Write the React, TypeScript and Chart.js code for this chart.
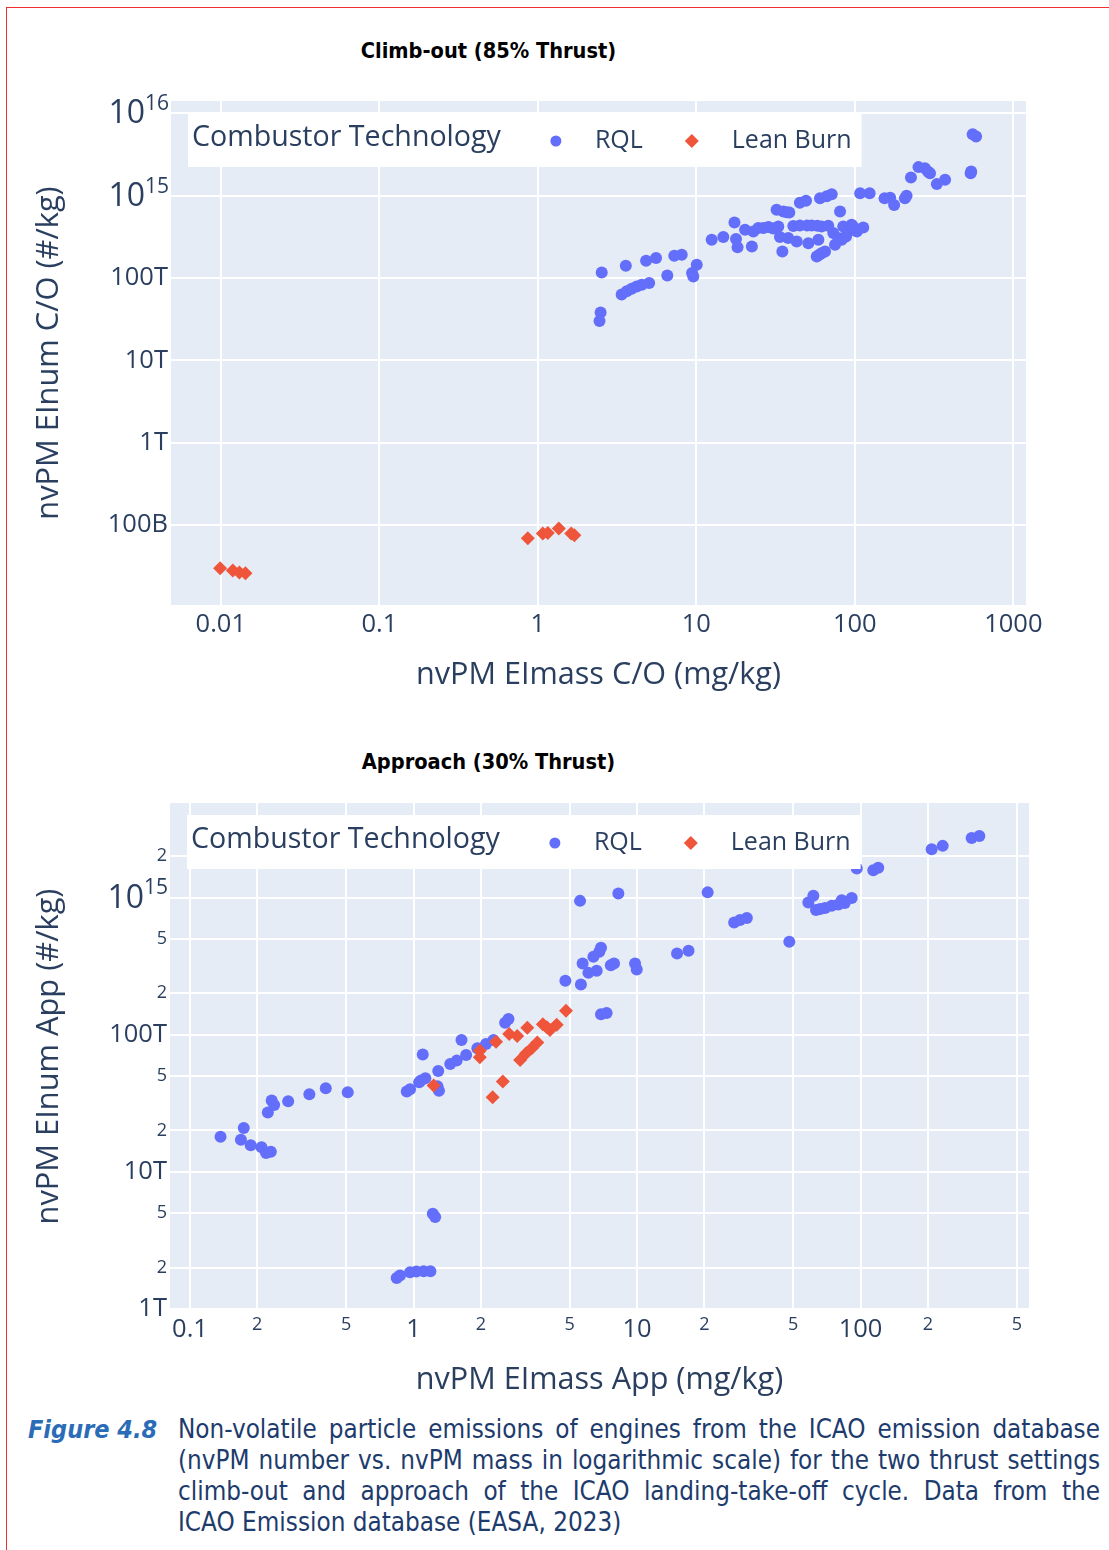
import React, { useEffect, useRef } from 'react';
import { Chart, registerables } from 'chart.js';

Chart.register(...registerables);

// ---------------- data ----------------
// Climb-out (85% thrust): RQL
const climbRqlMass = [2.53, 2.49, 2.45, 3.59, 3.38, 3.64, 3.91, 4.21, 4.53, 5.04, 4.82, 5.57, 6.56, 7.26, 8.09, 10.06, 9.57, 9.4, 12.5, 14.8, 17.4, 17.8, 18.2, 20.3, 22.4, 22.9, 24.6, 26.5, 28.5, 30.5, 32.1, 35.4, 38.6, 32.9, 33.7, 38.0, 34.9, 43.0, 40.9, 45.0, 49.2, 60.3, 66.5, 71.5, 108, 124, 154, 167, 177, 207, 212, 226, 252, 277, 290, 298, 329, 371, 538, 542, 554, 582, 80.7, 37.2, 45, 50, 53.4, 58, 61.7, 73.1, 84.5, 95.5, 113, 103, 91, 78.7, 75, 82.6, 50.9, 58.9, 59.7, 57.5, 64.9, 61.7, 97.5, 68, 88];
const climbRqlNum = [1.17e14, 3.8e13, 3.0e13, 1.41e14, 6.3e13, 6.9e13, 7.4e13, 7.9e13, 8.3e13, 8.7e13, 1.62e14, 1.75e14, 1.07e14, 1.86e14, 1.92e14, 1.45e14, 1.04e14, 1.15e14, 2.91e14, 3.14e14, 4.72e14, 2.97e14, 2.37e14, 3.85e14, 2.41e14, 3.67e14, 4.04e14, 4.04e14, 4.15e14, 4.0e14, 6.73e14, 6.41e14, 6.23e14, 4.22e14, 3.14e14, 3.06e14, 2.10e14, 2.77e14, 4.28e14, 8.2e14, 8.65e14, 9.3e14, 9.8e14, 1.04e15, 1.07e15, 1.07e15, 9.3e14, 9.4e14, 7.7e14, 9.3e14, 1.0e15, 1.66e15, 2.22e15, 2.15e15, 1.95e15, 1.87e15, 1.38e15, 1.56e15, 1.87e15, 1.96e15, 5.57e15, 5.21e15, 6.4e14, 6.3e14, 4.34e14, 4.34e14, 4.34e14, 4.3e14, 4.22e14, 3.51e14, 4.22e14, 4.43e14, 4.10e14, 3.67e14, 3.67e14, 3.06e14, 2.53e14, 2.91e14, 2.65e14, 2.91e14, 1.92e14, 1.83e14, 2.10e14, 2.0e14, 4.2e14, 4.3e14, 3.2e14];
// Climb-out: Lean Burn
const climbLbMass = [0.0099, 0.0119, 0.0131, 0.0143, 0.865, 1.075, 1.156, 1.357, 1.625, 1.7];
const climbLbNum = [3.0e10, 2.8e10, 2.65e10, 2.6e10, 6.9e10, 7.9e10, 8.0e10, 9.1e10, 7.9e10, 7.5e10];

// Approach (30% thrust): RQL
const appRqlMass = [0.137, 0.174, 0.169, 0.187, 0.209, 0.219, 0.23, 0.223, 0.232, 0.238, 0.275, 0.342, 0.405, 0.508, 0.933, 0.965, 1.06, 1.13, 1.1, 1.29, 1.28, 1.3, 1.46, 1.56, 1.72, 1.64, 1.22, 1.25, 0.841, 0.87, 0.965, 1.03, 1.11, 1.19, 1.08, 1.93, 2.11, 2.28, 2.57, 2.66, 4.78, 5.61, 5.56, 8.25, 5.71, 6.06, 6.6, 6.38, 6.78, 6.9, 7.63, 7.89, 6.9, 7.31, 9.8, 9.97, 20.7, 27.2, 28.9, 31.0, 48.0, 15.1, 17.0, 58.4, 61.5, 63.2, 66, 69.4, 74.3, 79.6, 82.4, 85, 91.3, 96.2, 114, 120, 208, 233, 314, 340];
const appRqlNum = [1.8e13, 2.08e13, 1.71e13, 1.56e13, 1.51e13, 1.37e13, 1.4e13, 2.7e13, 3.3e13, 3.06e13, 3.27e13, 3.67e13, 4.06e13, 3.8e13, 3.84e13, 4.0e13, 4.5e13, 4.81e13, 7.15e13, 5.43e13, 4.2e13, 3.9e13, 6.11e13, 6.46e13, 7.1e13, 9.15e13, 4.93e12, 4.67e12, 1.68e12, 1.75e12, 1.85e12, 1.87e12, 1.88e12, 1.88e12, 4.62e13, 7.94e13, 8.55e13, 9.15e13, 1.22e14, 1.3e14, 2.47e14, 2.32e14, 9.45e14, 1.07e15, 3.3e14, 2.82e14, 2.92e14, 3.69e14, 4.02e14, 4.3e14, 3.21e14, 3.3e14, 1.41e14, 1.44e14, 3.3e14, 2.99e14, 1.09e15, 6.58e14, 6.84e14, 7.1e14, 4.75e14, 3.91e14, 4.09e14, 9.2e14, 1.03e15, 8.09e14, 8.25e14, 8.4e14, 8.69e14, 8.89e14, 9.55e14, 9.1e14, 9.93e14, 1.63e15, 1.58e15, 1.65e15, 2.25e15, 2.38e15, 2.72e15, 2.81e15];
// Approach: Lean Burn
const appLbMass = [1.23, 1.98, 1.98, 2.34, 2.26, 2.51, 2.68, 2.91, 3.23, 3.0, 3.19, 3.38, 3.58, 3.79, 4.08, 4.37, 4.81, 3.95];
const appLbNum = [4.25e13, 7.64e13, 6.84e13, 8.88e13, 3.49e13, 4.54e13, 1.01e14, 9.77e13, 1.12e14, 6.53e13, 7.31e13, 7.94e13, 8.74e13, 1.19e14, 1.08e14, 1.18e14, 1.49e14, 1.13e14];

// ticks
const climbXTicks = [0.01, 0.1, 1, 10, 100, 1000];
const climbYTicks = [1e11, 1e12, 1e13, 1e14, 1e15, 1e16];
const appXTicks = [0.1, 0.2, 0.5, 1, 2, 5, 10, 20, 50, 100, 200, 500];
const appYTicks = [1e12, 2e12, 5e12, 1e13, 2e13, 5e13, 1e14, 2e14, 5e14, 1e15, 2e15];

const seriesNames = ['RQL', 'Lean Burn'];
const legendTitle = 'Combustor Technology';

const captionLines = [
  'Non-volatile particle emissions of engines from the ICAO emission database',
  '(nvPM number vs. nvPM mass in logarithmic scale) for the two thrust settings',
  'climb-out and approach of the ICAO landing-take-off cycle. Data from the',
  'ICAO Emission database (EASA, 2023)',
];

// ---------------- styles ----------------
const RQL_COLOR = '#636EFA';
const LB_COLOR = '#EF553B';
const TEXT_COLOR = '#2a3f5f';
const PLOT_BG = '#E5ECF6';
const FONT = '"Open Sans", Verdana, Arial, sans-serif';
const NARROW = '"Liberation Sans Narrow", "DejaVu Sans Condensed", sans-serif';

const isMajor = (v: number) => Math.abs(Math.log10(v) - Math.round(Math.log10(v))) < 1e-6;
const mantissa = (v: number) => Math.round(v / Math.pow(10, Math.floor(Math.log10(v) + 1e-9)));

function numLabel(v: number) {
  const e = Math.round(Math.log10(v));
  if (e >= 15) return '';
  if (e >= 12) return Math.pow(10, e - 12) + 'T';
  if (e >= 9) return Math.pow(10, e - 9) + 'B';
  return String(v);
}
function xLabel(v: number) {
  if (!isMajor(v)) return String(mantissa(v));
  const e = Math.round(Math.log10(v));
  return e < 0 ? v.toFixed(-e) : String(Math.round(v));
}
function yLabel(v: number) {
  if (!isMajor(v)) return String(mantissa(v));
  return numLabel(v);
}

const bgPlugin = {
  id: 'plotBg',
  beforeDraw(chart: any) {
    const { ctx, chartArea: a } = chart;
    ctx.save();
    ctx.fillStyle = PLOT_BG;
    ctx.fillRect(a.left, a.top, a.right - a.left, a.bottom - a.top);
    ctx.restore();
  },
};

const legendPlugin = {
  id: 'plotlyLegend',
  afterDatasetsDraw(chart: any) {
    const { ctx, chartArea: a } = chart;
    ctx.save();
    const x0 = a.left + 17;
    const y0 = a.top + 12;
    const h = 54;
    const cy = y0 + 27;
    const titleFont = `28.6px ${FONT}`;
    const itemFont = `25px ${FONT}`;
    ctx.font = titleFont;
    const tW = ctx.measureText(legendTitle).width;
    ctx.font = itemFont;
    const rW = ctx.measureText(seriesNames[0]).width;
    const lW = ctx.measureText(seriesNames[1]).width;
    const tX = x0 + 4;
    const m1 = tX + tW + 55;
    const r1 = m1 + 39;
    const m2 = r1 + rW + 49;
    const l1 = m2 + 40;
    const right = l1 + lW + 10;
    ctx.fillStyle = '#ffffff';
    ctx.fillRect(x0, y0, right - x0, h);
    ctx.fillStyle = TEXT_COLOR;
    ctx.textBaseline = 'middle';
    ctx.textAlign = 'left';
    ctx.font = titleFont;
    ctx.fillText(legendTitle, tX, cy - 2);
    ctx.font = itemFont;
    ctx.fillText(seriesNames[0], r1, cy + 1);
    ctx.fillText(seriesNames[1], l1, cy + 1);
    ctx.fillStyle = RQL_COLOR;
    ctx.beginPath();
    ctx.arc(m1, cy + 1, 5.5, 0, Math.PI * 2);
    ctx.fill();
    ctx.fillStyle = LB_COLOR;
    ctx.beginPath();
    const d = 7;
    ctx.moveTo(m2 - d, cy + 1);
    ctx.lineTo(m2, cy + 1 - d);
    ctx.lineTo(m2 + d, cy + 1);
    ctx.lineTo(m2, cy + 1 + d);
    ctx.closePath();
    ctx.fill();
    ctx.restore();
  },
};

function supPlugin(values: number[]) {
  return {
    id: 'supLabels',
    afterDraw(chart: any) {
      const { ctx } = chart;
      const s = chart.scales.y;
      ctx.save();
      ctx.fillStyle = TEXT_COLOR;
      ctx.textAlign = 'right';
      ctx.textBaseline = 'middle';
      values.forEach((v) => {
        const y = s.getPixelForValue(v);
        const exp = String(Math.round(Math.log10(v)));
        const right = s.right - 2;
        ctx.font = `21px ${FONT}`;
        const ew = ctx.measureText(exp).width;
        ctx.fillText(exp, right, y - 9);
        ctx.font = `32px ${FONT}`;
        ctx.fillText('10', right - ew, y + 1);
      });
      ctx.restore();
    },
  };
}

type PanelProps = {
  top: number;
  height: number;
  padTop: number;
  padRight: number;
  yAxisWidth: number;
  xAxisHeight: number;
  rqlX: number[];
  rqlY: number[];
  lbX: number[];
  lbY: number[];
  xMin: number;
  xMax: number;
  yMin: number;
  yMax: number;
  xTicks: number[];
  yTicks: number[];
  xTitle: string;
  yTitle: string;
  xTitlePad: number;
  supValues: number[];
};

function Panel(p: PanelProps) {
  const ref = useRef<HTMLCanvasElement>(null);
  useEffect(() => {
    const rql = p.rqlX.map((x, i) => ({ x, y: p.rqlY[i] }));
    const lb = p.lbX.map((x, i) => ({ x, y: p.lbY[i] }));
    const tickFont = (c: any) => ({ family: FONT, size: c.tick && isMajor(c.tick.value) ? 25.5 : 18 });
    const chart = new Chart(ref.current as HTMLCanvasElement, {
      type: 'scatter',
      data: {
        datasets: [
          {
            label: seriesNames[1],
            data: lb,
            order: 0,
            pointStyle: 'rectRot',
            pointRadius: 7,
            pointHoverRadius: 7,
            pointBorderWidth: 0,
            backgroundColor: LB_COLOR,
            borderColor: LB_COLOR,
          },
          {
            label: seriesNames[0],
            data: rql,
            order: 1,
            pointStyle: 'circle',
            pointRadius: 6,
            pointHoverRadius: 6,
            pointBorderWidth: 0,
            backgroundColor: RQL_COLOR,
            borderColor: RQL_COLOR,
          },
        ],
      },
      options: {
        animation: false,
        responsive: false,
        maintainAspectRatio: false,
        devicePixelRatio: 1,
        events: [],
        layout: { padding: { top: p.padTop, right: p.padRight, left: 0, bottom: 0 } },
        plugins: { legend: { display: false }, tooltip: { enabled: false }, title: { display: false } },
        scales: {
          x: {
            type: 'logarithmic',
            min: p.xMin,
            max: p.xMax,
            afterBuildTicks: (s: any) => {
              s.ticks = p.xTicks.map((v) => ({ value: v }));
            },
            afterFit: (s: any) => {
              s.height = p.xAxisHeight;
              s.paddingLeft = 0;
              s.paddingRight = 0;
            },
            grid: { color: '#ffffff', lineWidth: 2, drawTicks: false },
            border: { display: false },
            ticks: {
              autoSkip: false,
              maxRotation: 0,
              minRotation: 0,
              padding: 4,
              color: TEXT_COLOR,
              font: tickFont,
              callback: (v: any) => xLabel(Number(v)),
            },
            title: {
              display: true,
              text: p.xTitle,
              color: TEXT_COLOR,
              font: { family: FONT, size: 30.6 },
              padding: { top: 0, bottom: p.xTitlePad },
            },
          },
          y: {
            type: 'logarithmic',
            min: p.yMin,
            max: p.yMax,
            afterBuildTicks: (s: any) => {
              s.ticks = p.yTicks.map((v) => ({ value: v }));
            },
            afterFit: (s: any) => {
              s.width = p.yAxisWidth;
              s.paddingTop = 0;
              s.paddingBottom = 0;
            },
            grid: { color: '#ffffff', lineWidth: 2, drawTicks: false },
            border: { display: false },
            ticks: {
              autoSkip: false,
              padding: 3,
              color: TEXT_COLOR,
              font: tickFont,
              callback: (v: any) => yLabel(Number(v)),
            },
            title: {
              display: true,
              text: p.yTitle,
              color: TEXT_COLOR,
              font: { family: FONT, size: 30.8 },
              padding: { top: 31, bottom: 0 },
            },
          },
        },
      },
      plugins: [bgPlugin, legendPlugin, supPlugin(p.supValues)],
    } as any);
    return () => chart.destroy();
  }, []);
  return (
    <canvas
      ref={ref}
      width={1109}
      height={p.height}
      style={{ position: 'absolute', left: 0, top: p.top, width: 1109, height: p.height }}
    />
  );
}

const titleStyle: React.CSSProperties = {
  position: 'absolute',
  left: 0,
  width: 977,
  textAlign: 'center',
  fontFamily: NARROW,
  fontWeight: 'bold',
  fontSize: 21.6,
  color: '#000',
  lineHeight: '30px',
};

const captionLineStyle: React.CSSProperties = {
  height: 31,
  whiteSpace: 'nowrap',
  overflow: 'visible',
};

export default function App() {
  return (
    <div style={{ position: 'absolute', left: 0, top: 0, width: 1109, height: 1550, background: '#fff', overflow: 'hidden' }}>
      <div style={{ position: 'absolute', left: 6, top: 7, width: 1110, height: 1550, borderLeft: '1.5px solid #f03030', borderTop: '1.5px solid #f03030' }} />
      <div style={{ ...titleStyle, top: 36 }}>Climb-out (85% Thrust)</div>
      <Panel
        top={80}
        height={630}
        padTop={21}
        padRight={83}
        yAxisWidth={171}
        xAxisHeight={105}
        rqlX={climbRqlMass}
        rqlY={climbRqlNum}
        lbX={climbLbMass}
        lbY={climbLbNum}
        xMin={0.00485}
        xMax={1202}
        yMin={1.07e10}
        yMax={1.41e16}
        xTicks={climbXTicks}
        yTicks={climbYTicks}
        xTitle="nvPM EImass C/O (mg/kg)"
        yTitle="nvPM EInum C/O (#/kg)"
        xTitlePad={16}
        supValues={[1e15, 1e16]}
      />
      <div style={{ ...titleStyle, top: 747 }}>Approach (30% Thrust)</div>
      <Panel
        top={790}
        height={620}
        padTop={13}
        padRight={80}
        yAxisWidth={170}
        xAxisHeight={100}
        rqlX={appRqlMass}
        rqlY={appRqlNum}
        lbX={appLbMass}
        lbY={appLbNum}
        xMin={0.0814}
        xMax={567}
        yMin={9.8e11}
        yMax={4.89e15}
        xTicks={appXTicks}
        yTicks={appYTicks}
        xTitle="nvPM EImass App (mg/kg)"
        yTitle="nvPM EInum App (#/kg)"
        xTitlePad={11}
        supValues={[1e15]}
      />
      <div
        style={{
          position: 'absolute',
          left: 28,
          top: 1414,
          fontFamily: NARROW,
          fontWeight: 'bold',
          fontStyle: 'italic',
          fontSize: 25,
          lineHeight: '31px',
          color: '#2a6cb8',
        }}
      >
        Figure 4.8
      </div>
      <div
        style={{
          position: 'absolute',
          left: 178,
          top: 1414,
          width: 922,
          fontFamily: NARROW,
          fontSize: 25.8,
          lineHeight: '31px',
          color: '#1d3b6c',
        }}
      >
        {captionLines.map((line, i) => (
          <div
            key={i}
            style={{
              ...captionLineStyle,
              textAlign: i < captionLines.length - 1 ? 'justify' : 'left',
              textAlignLast: i < captionLines.length - 1 ? 'justify' : 'left',
              whiteSpace: 'normal',
            }}
          >
            {line}
          </div>
        ))}
      </div>
    </div>
  );
}
